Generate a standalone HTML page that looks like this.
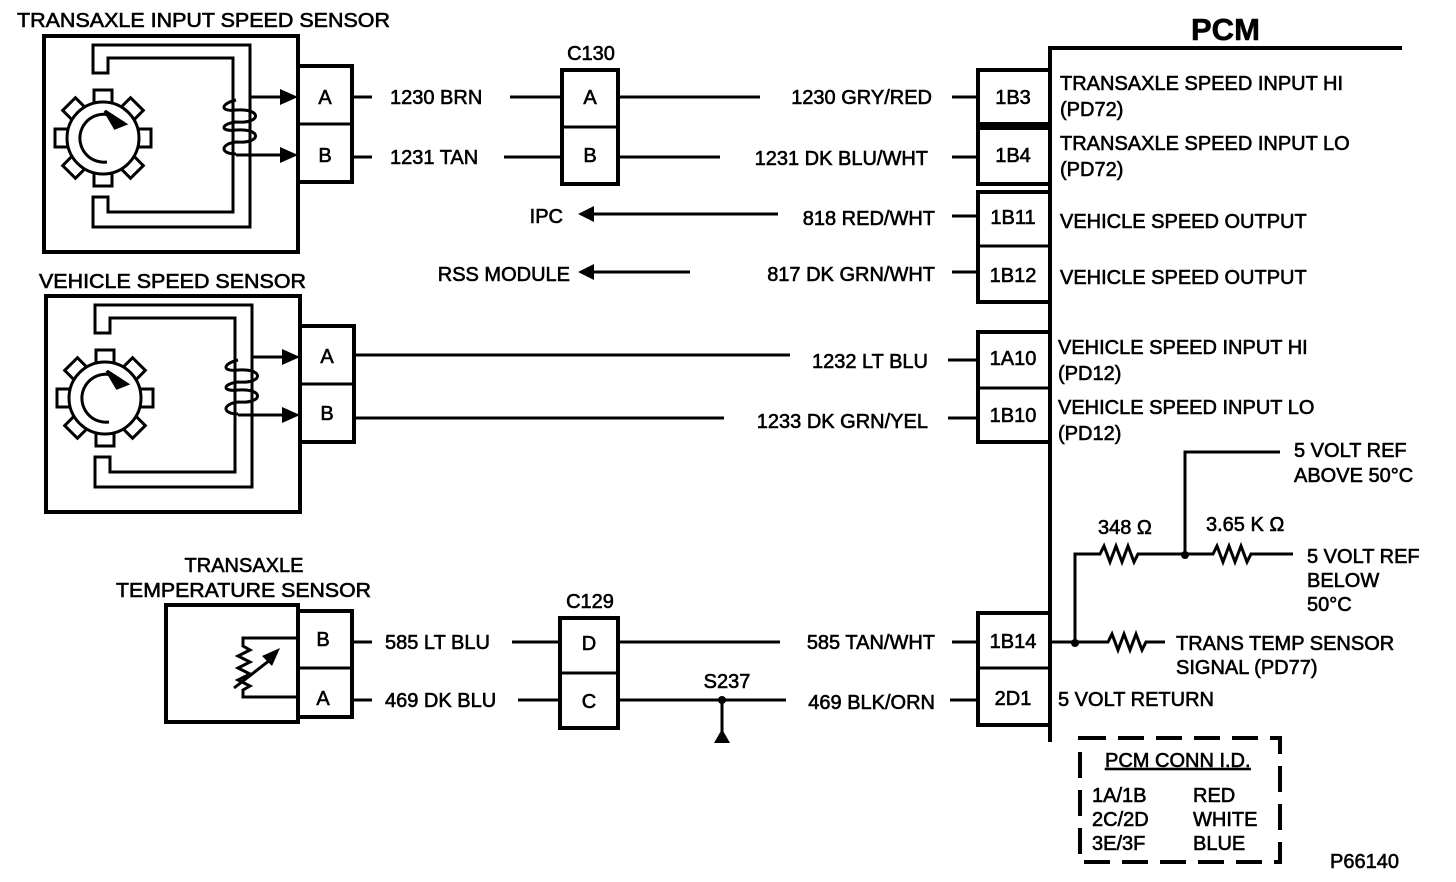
<!DOCTYPE html>
<html><head><meta charset="utf-8"><style>
html,body{margin:0;padding:0;background:#fff;}
svg{display:block;}
text{font-family:"Liberation Sans",Arial,sans-serif;font-size:20px;fill:#000;stroke:#000;stroke-width:0.6px;}
</style></head><body>
<svg width="1456" height="882" viewBox="0 0 1456 882" xmlns="http://www.w3.org/2000/svg">
<defs>
<g id="sens">
  <g stroke="#000" stroke-width="3" fill="#fff">
    <g transform="translate(103,138)">
      <rect x="-9" y="-48" width="18" height="14" transform="rotate(0)"/>
      <rect x="-9" y="-48" width="18" height="14" transform="rotate(45)"/>
      <rect x="-9" y="-48" width="18" height="14" transform="rotate(90)"/>
      <rect x="-9" y="-48" width="18" height="14" transform="rotate(135)"/>
      <rect x="-9" y="-48" width="18" height="14" transform="rotate(180)"/>
      <rect x="-9" y="-48" width="18" height="14" transform="rotate(225)"/>
      <rect x="-9" y="-48" width="18" height="14" transform="rotate(270)"/>
      <rect x="-9" y="-48" width="18" height="14" transform="rotate(315)"/>
      <circle r="36"/>
      <path d="M 10 -22 A 24 24 0 1 0 4 24" fill="none"/>
      <polygon points="2,-27 22,-14 12,-10" fill="#000"/>
    </g>
  </g>
  <path d="M93 45 H250 V227 H93 V197 H108 V212 H233 V58 H108 V73 H93 Z" fill="#fff" stroke="#000" stroke-width="3"/>
  <path d="M236 100 C220 104 220 112 236 110 C262 108 262 124 236 122 C220 124 220 132 236 130 C262 128 262 144 236 142 C220 144 220 154 236 154" fill="none" stroke="#000" stroke-width="3"/>
  <line x1="250" y1="97" x2="284" y2="97" stroke="#000" stroke-width="3"/>
  <polygon points="280,89 298,97 280,105" fill="#000"/>
  <line x1="236" y1="155" x2="284" y2="155" stroke="#000" stroke-width="3"/>
  <polygon points="280,147 298,155 280,163" fill="#000"/>
</g>
</defs>

<g fill="none" stroke="#000">
  <rect x="44" y="36" width="254" height="216" stroke-width="4"/>
  <rect x="298" y="66" width="54" height="116" stroke-width="4"/>
  <line x1="298" y1="124" x2="352" y2="124" stroke-width="3"/>
  <rect x="46" y="296" width="254" height="216" stroke-width="4"/>
  <rect x="300" y="326" width="54" height="116" stroke-width="4"/>
  <line x1="300" y1="384" x2="354" y2="384" stroke-width="3"/>
  <rect x="166" y="605" width="132" height="117" stroke-width="4"/>
  <rect x="298" y="611" width="54" height="106" stroke-width="4"/>
  <line x1="298" y1="668" x2="352" y2="668" stroke-width="3"/>
  <rect x="562" y="70" width="56" height="114" stroke-width="4"/>
  <line x1="562" y1="127" x2="618" y2="127" stroke-width="3"/>
  <rect x="560" y="618" width="58" height="110" stroke-width="4"/>
  <line x1="560" y1="673" x2="618" y2="673" stroke-width="3"/>
  <rect x="978" y="70" width="72" height="54" stroke-width="4"/>
  <rect x="978" y="128" width="72" height="56" stroke-width="4"/>
  <rect x="978" y="192" width="72" height="110" stroke-width="4"/>
  <line x1="978" y1="246" x2="1050" y2="246" stroke-width="3"/>
  <rect x="978" y="332" width="72" height="110" stroke-width="4"/>
  <line x1="978" y1="388" x2="1050" y2="388" stroke-width="3"/>
  <rect x="978" y="613" width="72" height="112" stroke-width="4"/>
  <line x1="978" y1="668" x2="1050" y2="668" stroke-width="3"/>
  <polyline points="1050,742 1050,48 1402,48" stroke-width="4"/>
</g>

<use href="#sens"/>
<use href="#sens" transform="translate(2,260)"/>

<g stroke="#000" stroke-width="3" fill="none">
  <polyline points="298,638 243,638 243,646 250,650 238,656 250,662 238,668 250,674 238,680 250,686 243,690 243,697 298,697"/>
  <line x1="234" y1="688" x2="270" y2="660"/>
</g>
<polygon points="262,656 280,648 272,666" fill="#000"/>

<g stroke="#000" stroke-width="3">
  <line x1="352" y1="97" x2="372" y2="97"/>
  <line x1="510" y1="97" x2="562" y2="97"/>
  <line x1="618" y1="97" x2="760" y2="97"/>
  <line x1="952" y1="97" x2="978" y2="97"/>
  <line x1="352" y1="157" x2="372" y2="157"/>
  <line x1="504" y1="157" x2="562" y2="157"/>
  <line x1="618" y1="157" x2="720" y2="157"/>
  <line x1="952" y1="157" x2="978" y2="157"/>
  <line x1="592" y1="214" x2="778" y2="214"/>
  <line x1="952" y1="216" x2="978" y2="216"/>
  <line x1="592" y1="272" x2="690" y2="272"/>
  <line x1="952" y1="272" x2="978" y2="272"/>
  <line x1="354" y1="355" x2="790" y2="355"/>
  <line x1="948" y1="360" x2="978" y2="360"/>
  <line x1="354" y1="418" x2="724" y2="418"/>
  <line x1="948" y1="418" x2="978" y2="418"/>
  <line x1="352" y1="642" x2="372" y2="642"/>
  <line x1="512" y1="642" x2="560" y2="642"/>
  <line x1="618" y1="642" x2="780" y2="642"/>
  <line x1="952" y1="642" x2="978" y2="642"/>
  <line x1="352" y1="700" x2="372" y2="700"/>
  <line x1="518" y1="700" x2="560" y2="700"/>
  <line x1="618" y1="700" x2="786" y2="700"/>
  <line x1="950" y1="700" x2="978" y2="700"/>
  <line x1="722" y1="700" x2="722" y2="732"/>
</g>
<polygon points="578,214 594,206 594,222" fill="#000"/>
<polygon points="578,272 594,264 594,280" fill="#000"/>
<circle cx="722" cy="700" r="4" fill="#000"/>
<polygon points="714,743 722,729 730,743" fill="#000"/>

<g stroke="#000" stroke-width="3" fill="none">
  <polyline points="1050,642 1108,642 1112,634 1118,650 1124,634 1130,650 1136,634 1142,650 1146,642 1165,642"/>
  <polyline points="1075,642 1075,554 1100,554 1104,546 1110,562 1116,546 1122,562 1128,546 1134,562 1138,554 1213,554 1217,546 1223,562 1229,546 1235,562 1241,546 1247,562 1251,554 1293,554"/>
  <polyline points="1185,554 1185,452 1280,452"/>
</g>
<circle cx="1075" cy="643" r="4" fill="#000"/>
<circle cx="1185" cy="555" r="4" fill="#000"/>

<rect x="1080" y="738" width="200" height="124" fill="none" stroke="#000" stroke-width="4" stroke-dasharray="26,12"/>

<text x="17" y="27" textLength="373" lengthAdjust="spacingAndGlyphs">TRANSAXLE INPUT SPEED SENSOR</text>
<text x="39" y="288" textLength="267" lengthAdjust="spacingAndGlyphs">VEHICLE SPEED SENSOR</text>
<text x="244" y="572" text-anchor="middle">TRANSAXLE</text>
<text x="116" y="597" textLength="255" lengthAdjust="spacingAndGlyphs">TEMPERATURE SENSOR</text>
<text x="1191" y="40" style="font-size:31px;font-weight:bold">PCM</text>

<g text-anchor="middle">
<text x="325" y="104">A</text><text x="325" y="162">B</text>
<text x="327" y="363">A</text><text x="327" y="420">B</text>
<text x="323" y="646">B</text><text x="323" y="705">A</text>
<text x="590" y="104">A</text><text x="590" y="162">B</text>
<text x="589" y="650">D</text><text x="589" y="708">C</text>
<text x="591" y="60">C130</text><text x="590" y="608">C129</text>
<text x="727" y="688">S237</text>
<text x="1013" y="104">1B3</text><text x="1013" y="162">1B4</text>
<text x="1013" y="224">1B11</text><text x="1013" y="282">1B12</text>
<text x="1013" y="365">1A10</text><text x="1013" y="422">1B10</text>
<text x="1013" y="648">1B14</text><text x="1013" y="705">2D1</text>
</g>

<text x="390" y="104">1230 BRN</text>
<text x="390" y="164">1231 TAN</text>
<text x="385" y="649">585 LT BLU</text>
<text x="385" y="707">469 DK BLU</text>
<g text-anchor="end">
<text x="932" y="104">1230 GRY/RED</text>
<text x="928" y="165">1231 DK BLU/WHT</text>
<text x="935" y="225">818 RED/WHT</text>
<text x="935" y="281">817 DK GRN/WHT</text>
<text x="928" y="368">1232 LT BLU</text>
<text x="928" y="428">1233 DK GRN/YEL</text>
<text x="935" y="649">585 TAN/WHT</text>
<text x="935" y="709">469 BLK/ORN</text>
<text x="563" y="223">IPC</text>
<text x="570" y="281">RSS MODULE</text>
</g>

<text x="1060" y="90">TRANSAXLE SPEED INPUT  HI</text>
<text x="1060" y="116">(PD72)</text>
<text x="1060" y="150">TRANSAXLE SPEED INPUT  LO</text>
<text x="1060" y="176">(PD72)</text>
<text x="1060" y="228">VEHICLE SPEED OUTPUT</text>
<text x="1060" y="284">VEHICLE SPEED OUTPUT</text>
<text x="1058" y="354">VEHICLE SPEED INPUT HI</text>
<text x="1058" y="380">(PD12)</text>
<text x="1058" y="414">VEHICLE SPEED INPUT LO</text>
<text x="1058" y="440">(PD12)</text>
<text x="1294" y="457">5 VOLT REF</text>
<text x="1294" y="482">ABOVE 50°C</text>
<text x="1098" y="534">348 Ω</text>
<text x="1206" y="531">3.65 K Ω</text>
<text x="1307" y="563">5 VOLT REF</text>
<text x="1307" y="587">BELOW</text>
<text x="1307" y="611">50°C</text>
<text x="1176" y="650">TRANS TEMP SENSOR</text>
<text x="1176" y="674">SIGNAL (PD77)</text>
<text x="1058" y="706">5 VOLT RETURN</text>
<text x="1105" y="767" text-decoration="underline">PCM CONN I.D.</text>
<text x="1092" y="802">1A/1B</text><text x="1193" y="802">RED</text>
<text x="1092" y="826">2C/2D</text><text x="1193" y="826">WHITE</text>
<text x="1092" y="850">3E/3F</text><text x="1193" y="850">BLUE</text>
<text x="1330" y="868">P66140</text>
</svg>
</body></html>
